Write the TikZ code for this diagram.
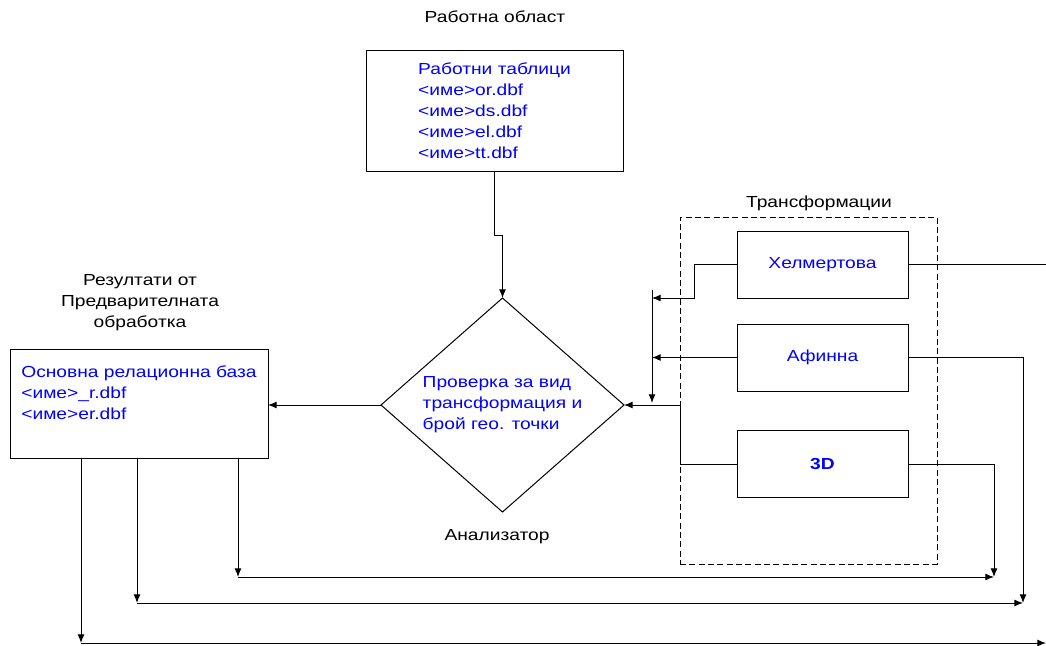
\documentclass[tikz,border=0pt]{standalone}
\usepackage{fontspec}
\setmainfont{Liberation Sans}[FakeStretch=1.2]
\usetikzlibrary{arrows.meta,shapes.geometric,positioning}

\tikzset{every picture/.style={line width=0.75pt}}
\tikzset{
  every node/.style={font=\fontsize{12}{15.75}\selectfont, outer sep=0pt},
  box/.style={draw, align=left, text=blue},
  tbox/.style={draw, minimum width=128.25pt, minimum height=50.25pt, text=blue},
  txt/.style={align=center},
  arr/.style={-{Latex[length=6.5pt,width=5.25pt]}}
}

\begin{document}
\begin{tikzpicture}[x=0.75pt,y=0.75pt,yscale=-1,xscale=1]
\useasboundingbox (0,0) rectangle (1046,646);

%Shape: Rectangle - work tables
\node [box, minimum width=192.75pt, minimum height=90.75pt] (work) at (494.5,110.5)
  {Работни таблици\\<име>or.dbf\\<име>ds.dbf\\<име>el.dbf\\<име>tt.dbf};
%Shape: Rectangle - results
\node [box, minimum width=193.5pt, minimum height=81.75pt] (res) at (139,403.5)
  {Основна релационна база\\<име>\_r.dbf\\<име>er.dbf\\ ~};
%Shape: Diamond - analyser
\node [draw, diamond, aspect=1.135, inner sep=0pt, minimum width=182.25pt, minimum height=160.5pt, align=left, text=blue] (chk) at (502.5,405)
  {Проверка за вид\\трансформация и\\брой гео. точки};
%Shape: Dashed Rectangle - transformations
\node [draw, dash pattern=on 4.5pt off 2.5pt, minimum width=192.75pt, minimum height=260.25pt] (trans) at (808.5,390.5) {};
%Shape: Rectangles - transformation kinds
\node [tbox] (helm) at (822.5,264.5) {Хелмертова};
\node [tbox] (afin) at (822.5,357.5) {Афинна};
\node [tbox, font=\fontsize{12}{15.75}\selectfont\bfseries] (td) at (822.5,464) {3D};

% Text Node
\node [txt] (worklbl) at (495,17) {Работна област};
% Text Node
\node [txt] (reslbl) at (140,303) {Резултати от\\Предварителната\\обработка};
% Text Node
\node [txt] (chklbl) at (497,537) {Анализатор};
% Text Node
\node [txt] (translbl) at (819,203) {Трансформации};

%Coordinates
\coordinate (bustop) at (652,290);
\coordinate (busend) at (652,403);
\coordinate (helmj) at (652,298);
\coordinate (edge) at (1046,264.5);
\coordinate (r1) at (238,577);
\coordinate (r2) at (137,603);
\coordinate (r3) at (81,643);
\coordinate (j1) at (994,577);
\coordinate (j2) at (1023,603);
\coordinate (j3) at (1046,643);

%Straight Lines
\draw [arr] (work.south) -- ++(0,64) -| (chk.north);
\draw [arr] (chk.west) -- (chk.west -| res.east);
\draw [arr] (helm.west) -- ++(-43,0) |- (helmj);
\draw [arr] (bustop) -- (busend);
\draw [arr] (afin.west) -- (afin.west -| bustop);
\draw [arr] (td.west) -- (td.west -| trans.west) -- (trans.west |- chk.east) -- (chk.east);
\draw (helm.east) -- (edge);
%Lines to the bottom
\draw [arr] (afin.east) -| (j2);
\draw [arr] (td.east) -| (j1);
\draw [arr] (res.south -| r1) -- (r1);
\draw [arr] (r1) -- (j1);
\draw [arr] (res.south -| r2) -- (r2);
\draw [arr] (r2) -- (j2);
\draw [arr] (res.south -| r3) -- (r3);
\draw [arr] (r3) -- (j3);

\end{tikzpicture}
\end{document}
